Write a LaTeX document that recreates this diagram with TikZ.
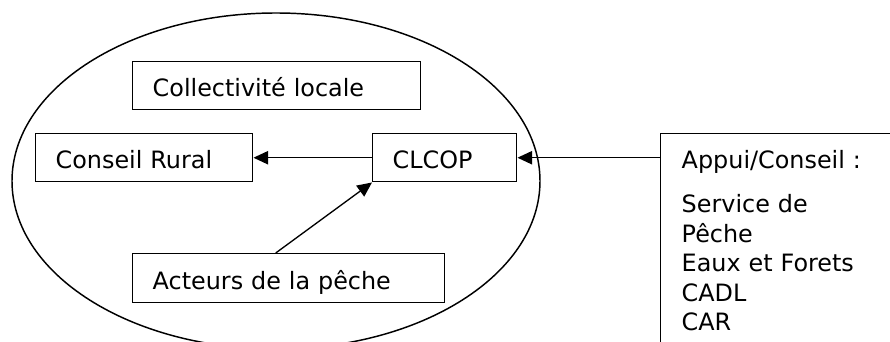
\documentclass[tikz,border=0pt]{standalone}
\usepackage{fontspec}
\setmainfont{DejaVu Sans}
\usetikzlibrary{arrows.meta,calc}
\begin{document}
\begin{tikzpicture}[x=0.75pt,y=-0.75pt,
  font=\fontsize{17.9pt}{22.1pt}\selectfont,
  box/.style={draw, line width=1.1pt, anchor=north west, minimum height=36pt,
    inner xsep=15pt, inner ysep=0pt, text height=16.5pt, text depth=0pt, align=left},
  arr/.style={-{Triangle[length=11pt,width=10pt]}, line width=1pt}]
\clip (0,0) rectangle (890,342);
\draw[line width=1.1pt] (276,181) ellipse [x radius=198pt, y radius=126pt];
\node[box, text width=186pt] (coll) at (132,61) {Collectivité locale};
\node[box, text width=132.75pt] (conseil) at (35,133) {Conseil Rural};
\node[box, text width=78pt] (clcop) at (372,133) {CLCOP};
\node[box, text width=204pt, minimum height=36.75pt] (acteurs) at (132,253) {Acteurs de la pêche};
\node[draw, line width=1.1pt, anchor=north west, align=left, text width=240pt,
  inner xsep=15.75pt, inner ysep=12.6pt] (appui) at (660,133)
  {Appui/Conseil :\\[11pt]Service de\\Pêche\\Eaux et Forets\\CADL\\CAR\\ };
\draw[arr] (clcop) -- (conseil);
\draw[arr] (clcop.east -| appui.west) -- (clcop.east);
\draw[arr] ([xshift=-9.75pt]acteurs.north) -- (clcop.south west);
\end{tikzpicture}
\end{document}
